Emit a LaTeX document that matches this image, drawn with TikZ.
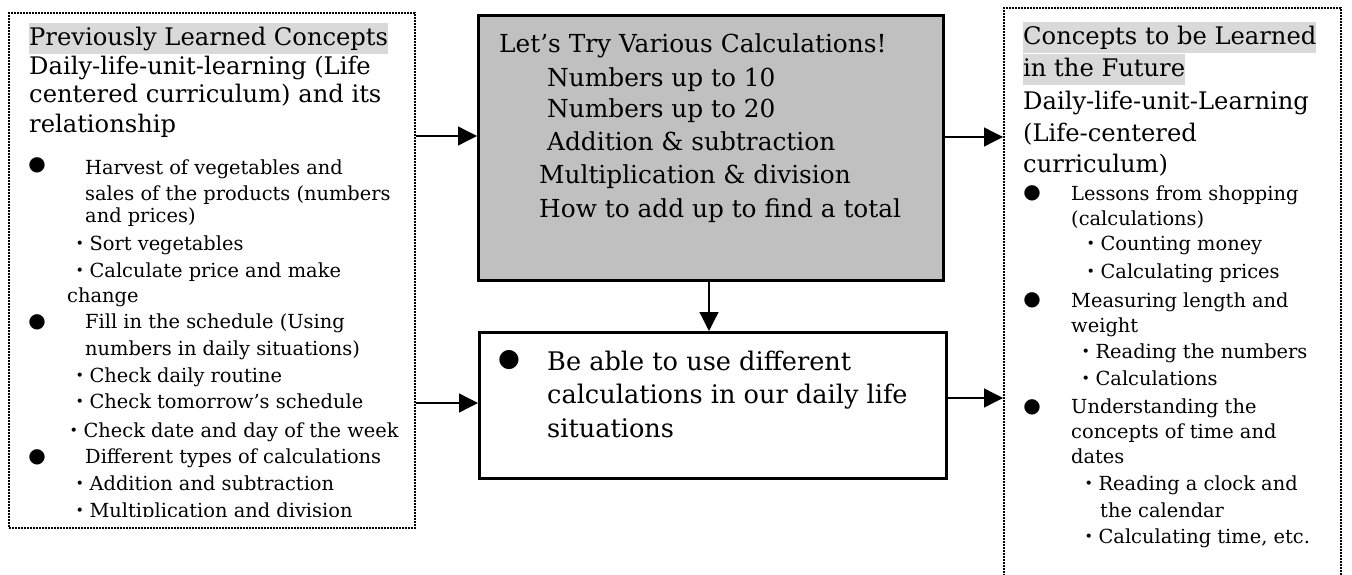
\documentclass[tikz,border=0pt]{standalone}
\usepackage{fontspec}
\setmainfont{DejaVu Serif}
\newfontfamily\cjkdot{Noto Sans CJK JP}
\newfontfamily\symfont{DejaVu Sans}
\usetikzlibrary{arrows.meta}
\definecolor{boxgray}{HTML}{C0C0C0}
\definecolor{hlgray}{HTML}{D9D9D9}
\newcommand{\md}{{\cjkdot ・}}
\begin{document}
\begin{tikzpicture}[x=1pt,y=-1pt,
  dotbox/.style={draw, line width=2pt, dash pattern=on 2pt off 1pt, anchor=north west, inner sep=0pt},
  solidbox/.style={draw, line width=2.6pt, anchor=north west, inner sep=0pt},
  arr/.style={line width=1.3pt, -{Triangle[length=19pt,width=19pt]}},
  hd/.style={anchor=base west, inner sep=0pt, font=\fontsize{24.2}{28}\selectfont},
  hl/.style={hd, fill=hlgray, text height=23pt, text depth=8pt},
  bl/.style={anchor=base west, inner sep=0pt, font=\fontsize{19.4}{23}\selectfont},
  ct/.style={anchor=base west, inner sep=0pt, font=\fontsize{24.8}{29}\selectfont},
  cb/.style={anchor=base west, inner sep=0pt, font=\fontsize{25.6}{30}\selectfont},
  dotl/.style={anchor=center, inner sep=0pt, font=\symfont\fontsize{20}{24}\selectfont},
  dotc/.style={anchor=center, inner sep=0pt, font=\symfont\fontsize{25}{28}\selectfont}]
\useasboundingbox (0,0) rectangle (1352,575);

% boxes
\node[dotbox, minimum width=406pt, minimum height=515pt] (lbox) at (8,12) {};
\node[solidbox, fill=boxgray, minimum width=465pt, minimum height=265pt] (cbox) at (477,14) {};
\node[solidbox, fill=white, minimum width=467pt, minimum height=146pt] (bbox) at (478,331) {};
\node[dotbox, minimum width=337pt, minimum height=620pt] (rbox) at (1003,7) {};

% connectors
\draw[arr] (lbox.east |- 0,136) -- (cbox.west |- 0,136);
\draw[arr] (lbox.east |- 0,403) -- (bbox.west |- 0,403);
\draw[arr] (cbox.east |- 0,137) -- (rbox.west |- 0,137);
\draw[arr] (bbox.east |- 0,398) -- (rbox.west |- 0,398);
\draw[arr] (cbox.south -| 709,0) -- (bbox.north -| 709,0);

% left box header
\node[hl] (l1) at (29,46) {Previously Learned Concepts};
\node[hd] (l2) at (29,75) {Daily-life-unit-learning (Life};
\node[hd] (l3) at (29,103) {centered curriculum) and its};
\node[hd] (l4) at (29,132) {relationship};
% left box bullets
\node[dotl] (lb1) at (37,165) {●};
\node[bl] (l5) at (85,175) {Harvest of vegetables and};
\node[bl] (l6) at (85,200) {sales of the products (numbers};
\node[bl] (l7) at (85,222) {and prices)};
\node[bl] (l8) at (70,250) {\md Sort vegetables};
\node[bl] (l9) at (70,277) {\md Calculate price and make};
\node[bl] (l10) at (67,302) {change};
\node[dotl] (lb2) at (37,322) {●};
\node[bl] (l11) at (85,328) {Fill in the schedule (Using};
\node[bl] (l12) at (85,355) {numbers in daily situations)};
\node[bl] (l13) at (70,382) {\md Check daily routine};
\node[bl] (l14) at (70,408) {\md Check tomorrow’s schedule};
\node[bl] (l15) at (64,437) {\md Check date and day of the week};
\node[dotl] (lb3) at (37,457) {●};
\node[bl] (l16) at (85,463) {Different types of calculations};
\node[bl] (l17) at (70,490) {\md Addition and subtraction};
\begin{scope}
\clip (10,470) rectangle (412,516);
\node[bl] (l18) at (70,517) {\md Multiplication and division};
\end{scope}

% center box
\node[ct] (c1) at (499,53) {Let’s Try Various Calculations!};
\node[ct] (c2) at (547,87) {Numbers up to 10};
\node[ct] (c3) at (547,118) {Numbers up to 20};
\node[ct] (c4) at (547,150) {Addition \& subtraction};
\node[ct] (c5) at (539,183) {Multiplication \& division};
\node[ct] (c6) at (539,217) {How to add up to find a total};

% bottom box
\node[dotc] (bb1) at (509,360) {●};
\node[cb] (b1) at (547,370) {Be able to use different};
\node[cb] (b2) at (547,403) {calculations in our daily life};
\node[cb] (b3) at (547,437) {situations};

% right box header
\node[hl] (r1) at (1023,45) {Concepts to be Learned\hspace{8pt}};
\node[hl] (r2) at (1023,77) {in the Future};
\node[hd] (r3) at (1023,110) {Daily-life-unit-Learning};
\node[hd] (r4) at (1023,142) {(Life-centered};
\node[hd] (r5) at (1023,172) {curriculum)};
% right box bullets
\node[dotl] (rb1) at (1032,193) {●};
\node[bl] (r6) at (1071,200) {Lessons from shopping};
\node[bl] (r7) at (1071,225) {(calculations)};
\node[bl] (r8) at (1081,250) {\md Counting money};
\node[bl] (r9) at (1081,278) {\md Calculating prices};
\node[dotl] (rb2) at (1032,300) {●};
\node[bl] (r10) at (1071,307) {Measuring length and};
\node[bl] (r11) at (1071,332) {weight};
\node[bl] (r12) at (1076,358) {\md Reading the numbers};
\node[bl] (r13) at (1076,385) {\md Calculations};
\node[dotl] (rb3) at (1032,407) {●};
\node[bl] (r14) at (1071,413) {Understanding the};
\node[bl] (r15) at (1071,438) {concepts of time and};
\node[bl] (r16) at (1071,463) {dates};
\node[bl] (r17) at (1079,490) {\md Reading a clock and};
\node[bl] (r18) at (1100,517) {the calendar};
\node[bl] (r19) at (1079,543) {\md Calculating time, etc.};
\end{tikzpicture}
\end{document}
